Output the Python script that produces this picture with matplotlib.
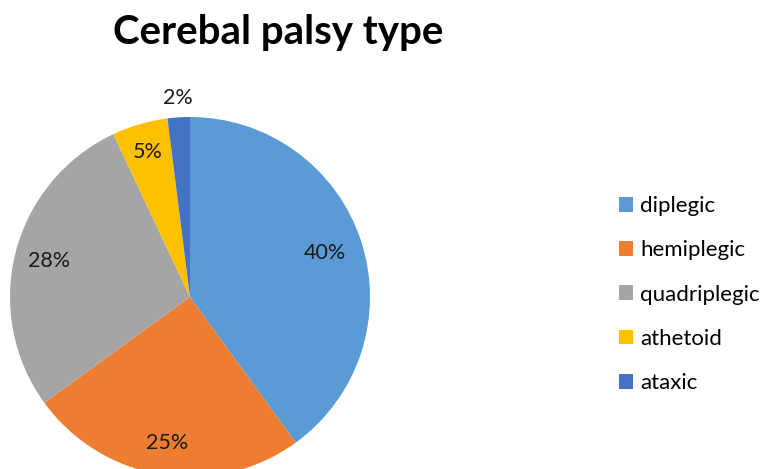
import matplotlib.pyplot as plt
import numpy as np

types = ["diplegic", "hemiplegic", "quadriplegic", "athetoid", "ataxic"]
shares = [40, 25, 28, 5, 2]
colors = ["#5B9BD5", "#ED7D31", "#A5A5A5", "#FFC000", "#4472C4"]
label_dist = [0.79, 0.82, 0.81, 0.84, 1.11]

plt.rcParams["font.family"] = ["Lato", "DejaVu Sans"]

fig = plt.figure(figsize=(7.62, 4.69), dpi=100)
ax = fig.add_axes([10 / 762, -8 / 469, 360 / 762, 360 / 469])
wedges, _ = ax.pie(shares, colors=colors, startangle=90, counterclock=False, radius=1)
ax.set_xlim(-1, 1)
ax.set_ylim(-1, 1)
ax.set_aspect("equal")
ax.axis("off")

for w, value, d in zip(wedges, shares, label_dist):
    mid = np.deg2rad((w.theta1 + w.theta2) / 2)
    ax.text(d * np.cos(mid), d * np.sin(mid), f"{value}%", ha="center", va="center",
            fontsize=15.5, color="#1a1a1a")

fig.text(0.365, 0.93, "Cerebal palsy type", ha="center", va="center",
         fontsize=29, fontweight="bold")

fig.legend(wedges, types, loc="center left", bbox_to_anchor=(619 / 762, 0.372),
           frameon=False, fontsize=16, handlelength=0.64, handleheight=0.64,
           handletextpad=0.32, labelspacing=1.09, borderpad=0, borderaxespad=0)

fig.savefig("out.png", dpi=100)
